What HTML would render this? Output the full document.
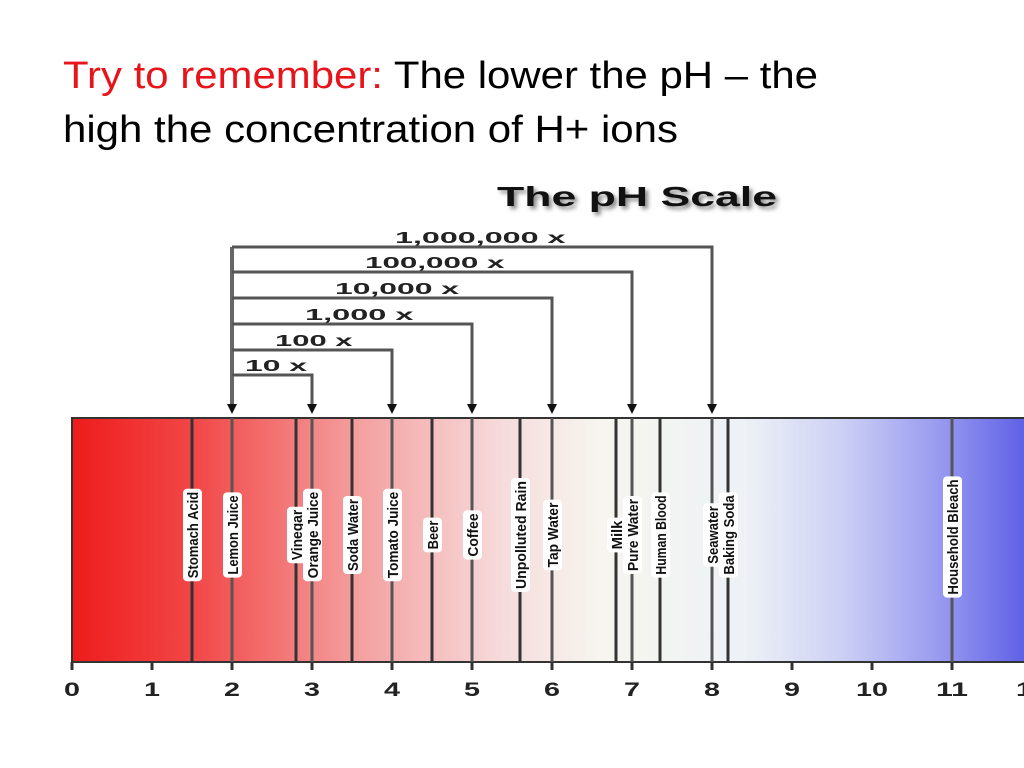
<!DOCTYPE html>
<html><head><meta charset="utf-8"><style>
html,body{margin:0;padding:0;background:#fff;width:1024px;height:768px;overflow:hidden}
svg{display:block}
</style></head><body>
<svg id="chart" width="1024" height="768" xmlns="http://www.w3.org/2000/svg" font-family="Liberation Sans, sans-serif">
<defs>
<linearGradient id="grad" x1="0" x2="1" y1="0" y2="0">
<stop offset="0" stop-color="#ee1c1c"/>
<stop offset="0.13" stop-color="#f24848"/>
<stop offset="0.3" stop-color="#f4a0a0"/>
<stop offset="0.45" stop-color="#f6dcdc"/>
<stop offset="0.55" stop-color="#f6f5ef"/>
<stop offset="0.7" stop-color="#eef2f6"/>
<stop offset="0.8" stop-color="#cdd1f4"/>
<stop offset="0.9" stop-color="#9a9cf0"/>
<stop offset="1" stop-color="#5a5ce6"/>
</linearGradient>
<filter id="sh"><feGaussianBlur stdDeviation="2"/></filter>
</defs>
<text x="63" y="88" font-size="38" textLength="755" lengthAdjust="spacingAndGlyphs"><tspan fill="#e8141c">Try to remember:</tspan><tspan fill="#000"> The lower the pH – the</tspan></text>
<text x="63" y="142" font-size="38" fill="#000" textLength="615" lengthAdjust="spacingAndGlyphs">high the concentration of H+ ions</text>
<text x="500" y="209" font-size="28" font-weight="bold" fill="#888" filter="url(#sh)" textLength="280" lengthAdjust="spacingAndGlyphs">The pH Scale</text>
<text x="497" y="206" font-size="28" font-weight="bold" fill="#111" textLength="280" lengthAdjust="spacingAndGlyphs">The pH Scale</text>
<rect x="72" y="418" width="960" height="244" fill="url(#grad)" stroke="#333" stroke-width="2"/>
<g id="marks"></g>
</svg>
<script>
const substances = ["Stomach Acid","Lemon Juice","Vinegar","Orange Juice","Soda Water","Tomato Juice","Beer","Coffee","Unpolluted Rain","Tap Water","Milk","Pure Water","Human Blood","Seawater","Baking Soda","Household Bleach"];
const substancePH = [1.5,2,2.8,3,3.5,4,4.5,5,5.6,6,6.8,7,7.35,8,8.2,11];
const tickLabels = [0,1,2,3,4,5,6,7,8,9,10,11,12];
const factorLabels = ["10 x","100 x","1,000 x","10,000 x","100,000 x","1,000,000 x"];
const factorEndPH = [3,4,5,6,7,8];
const basePH = 2;

const X0 = 72, UNIT = 80;
function xs(ph){ return X0 + ph*UNIT; }
const NS = "http://www.w3.org/2000/svg";
const g = document.getElementById('marks');
function mk(tag, attrs, parent){ const e=document.createElementNS(NS,tag); for(const k in attrs) e.setAttribute(k,attrs[k]); (parent||g).appendChild(e); return e; }

// ticks
tickLabels.forEach(t=>{
  const x = xs(t);
  const tk = mk('line',{x1:x,x2:x,y1:662,y2:670,stroke:'#333','stroke-width':3});
  
  
  const tx = mk('text',{x:x,y:696,'text-anchor':'middle','font-size':19,'font-weight':'bold',fill:'#222',textLength:String(t).length*16,lengthAdjust:'spacingAndGlyphs'});
  tx.textContent = t;
  
  
});

// substance lines & labels
substances.forEach((s,i)=>{
  const x = xs(substancePH[i]);
  const ln = mk('line',{x1:x,x2:x,y1:418,y2:662,stroke:(i%2? '#555':'#333'),'stroke-width':3});
  
  
  const grp = mk('g',{transform:`translate(${x+6},${i==15?537:535}) rotate(-90)`});
  
  
  const len = s.length*7.2;
  mk('rect',{x:-len/2-3,y:-15,width:len+6,height:19,rx:4,fill:'#fff'},grp);
  const t = mk('text',{x:0,y:0,'text-anchor':'middle','font-size':15,'font-weight':'bold',fill:'#111',textLength:len,lengthAdjust:'spacingAndGlyphs'},grp);
  t.textContent = s;
});

// factor brackets
const yTop = [375,350,324,298,272,247];
const xb = xs(basePH);
const vb = mk('line',{x1:xb,x2:xb,y1:247,y2:407,stroke:'#666','stroke-width':4});


const ab = mk('path',{d:`M${xb-5},404 L${xb+5},404 L${xb},414 Z`,fill:'#111'});


factorLabels.forEach((f,i)=>{
  const x2 = xs(factorEndPH[i]);
  const y = yTop[i];
  const br = mk('path',{d:`M${xb},${y} L${x2},${y} L${x2},407`,fill:'none',stroke:'#555','stroke-width':3});
  
  
  const ar = mk('path',{d:`M${x2-5},404 L${x2+5},404 L${x2},414 Z`,fill:'#111'});
  
  
  const w = f.length*15.5;
  const tx = mk('text',{x:xb+13+i*30,y:y-4,'font-size':16,'font-weight':'bold',fill:'#222',textLength:w,lengthAdjust:'spacingAndGlyphs'});
  tx.textContent = f;
  
  
});
</script>
</body></html>
